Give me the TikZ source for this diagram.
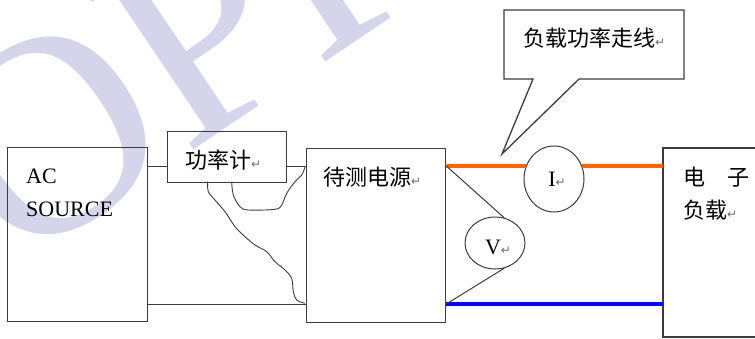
\documentclass[tikz,border=0pt]{standalone}
\usepackage{fontspec}
\setmainfont{Liberation Serif}
\newfontfamily\cjk{Noto Sans CJK SC}
\newfontfamily\symf{DejaVu Sans}
\usetikzlibrary{shapes.geometric}
\definecolor{wm}{RGB}{212,212,234}
\definecolor{orangew}{RGB}{255,102,0}
\definecolor{bluew}{RGB}{0,0,255}
\definecolor{markc}{RGB}{110,110,110}
\definecolor{edge}{RGB}{60,60,60}
\newcommand{\pmark}{{\symf\fontsize{12}{12}\selectfont\color{markc}↵}}
\begin{document}
\begin{tikzpicture}[x=1pt,y=1pt,
  box/.style={draw=edge, line width=1.3pt, inner sep=0pt},
  wire/.style={draw=edge, line width=1pt},
  meterc/.style={ellipse, draw=edge, line width=1pt, fill=white, inner sep=0pt},
  zh/.style={font=\cjk\fontsize{22}{26}\selectfont, anchor=west, inner sep=0pt},
  en/.style={font=\fontsize{22}{26}\selectfont, anchor=west, inner sep=0pt},
  hot/.style={draw=orangew, line width=4pt},
  cold/.style={draw=bluew, line width=4.5pt}]
\useasboundingbox (0,0) rectangle (755,338);
\clip (0,0) rectangle (755,338);
% watermark
\node[rotate=34, anchor=base west, text=wm, inner sep=0pt,
      font=\fontsize{285}{285}\selectfont] (wmk) at (15,67) {OPP};
% boxes
\node[box, minimum width=140pt, minimum height=174pt, anchor=north west] (ac) at (7,191) {};
\node[box, minimum width=119pt, minimum height=51pt, anchor=north west] (meter) at (167,207) {};
\node[box, minimum width=139pt, minimum height=174pt, anchor=north west] (dut) at (306,190) {};
\coordinate (ldtl) at (663,190);
\coordinate (ldbl) at (663,1);
\draw[draw=edge, line width=1.3pt] (760,190) -- (ldtl) -- (ldbl) -- (760,1);
% texts
\node[en] (tac) at (26,162) {AC};
\node[en] (tsrc) at (26,129) {SOURCE};
\node[zh] (tmeter) at (185,178) {功率计\pmark};
\node[zh] (tdut) at (323,161) {待测电源\pmark};
\node[zh] (tload1) at (683,161) {电　子};
\node[zh] (tload2) at (683,128) {负载\pmark};
% levels
\coordinate (y1) at (0,172);
\coordinate (y2) at (0,34);
% AC side wiring
\draw[wire] (ac.east|-y1) -- (meter.west|-y1);
\draw[wire] (meter.east|-y1) -- (dut.west|-y1);
\draw[wire] (ac.east|-y2) -- (dut.west|-y2);
\coordinate (ma) at (207.7,156.3);
\coordinate (mb) at (231.7,156.3);
\draw[wire, line width=0.9pt] plot[smooth, tension=0.55] coordinates {(ma) (208.3,146.3) (215,138) (225,126.3) (235,111.3) (245,101.3) (255,93) (266.7,86.3) (275,76.3) (285,68) (291.7,59.7) (293.3,46.3) (296.7,38) (305,34.7)};
\draw[wire, line width=0.9pt] plot[smooth, tension=0.55] coordinates {(mb) (233.3,143) (240,131.3) (248.3,128) (275,128.7) (281.7,133) (286.7,144.7) (295,156.3) (301.7,163) (305,171)};
% meters
\node[meterc, minimum width=60pt, minimum height=66pt] (I) at (554,159) {};
\node[meterc, minimum width=60pt, minimum height=52pt] (V) at (495,95) {};
\node[en, anchor=center] (tI) at (557,159) {I\pmark};
\node[en, anchor=center] (tV) at (498,91) {V\pmark};
% DC side wiring
\draw[hot] (dut.east|-y1) -- (I.155);
\draw[hot] (I.25) -- (ldtl|-y1);
\draw[cold] (dut.east|-y2) -- (ldtl|-y2);
\draw[wire] (dut.east|-y1) -- (V.70);
\draw[wire] (dut.east|-y2) -- (V.-70);
% callout
\coordinate (tip) at (502,184);
\draw[draw=edge, line width=1.3pt, fill=white] (504,328) -- (684,328) -- (684,259) -- (579,259) -- (tip) -- (533,259) -- (504,259) -- cycle;
\node[zh] (tcall) at (523,300) {负载功率走线\pmark};
\end{tikzpicture}
\end{document}
